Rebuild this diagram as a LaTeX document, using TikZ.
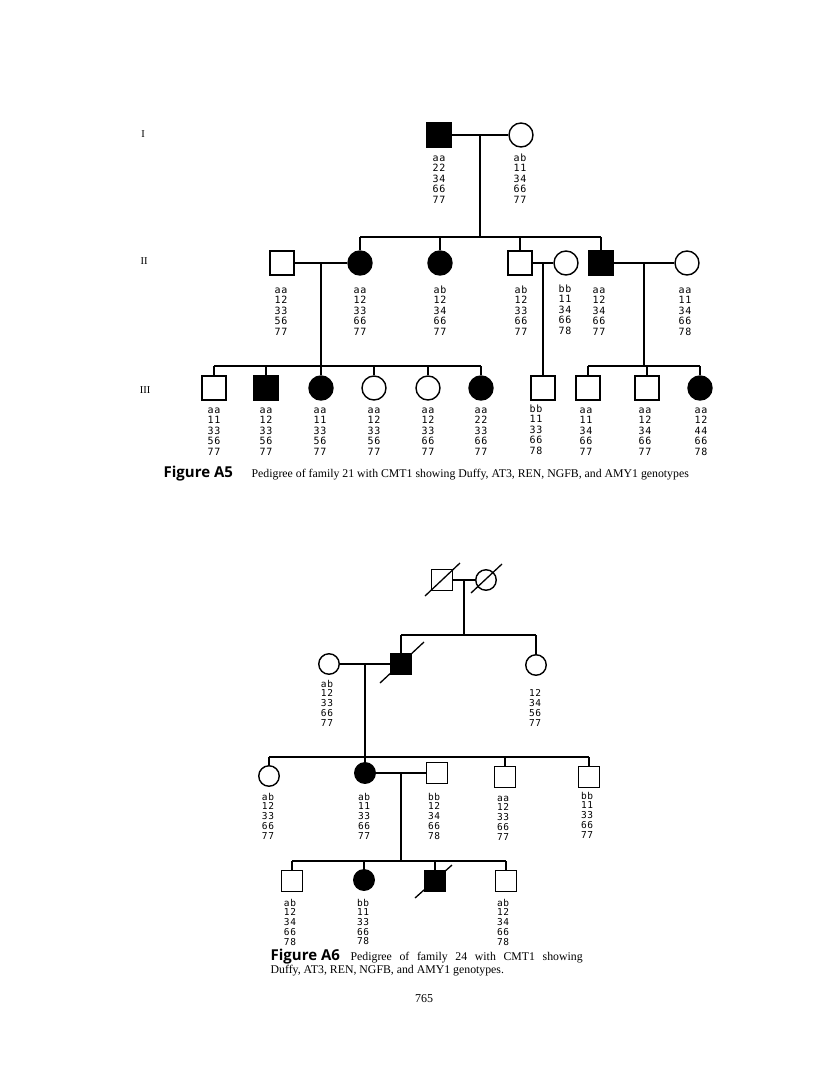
\documentclass[tikz,border=0pt]{standalone}
\usepackage{fontspec}
\setmainfont{Liberation Serif}
\newfontfamily\gfont[LetterSpace=6]{DejaVu Sans Mono}
\newfontfamily\figfont{Open Sans}
\usetikzlibrary{calc}
% genotype column
\newcommand{\gtp}[1]{\begin{tabular}[t]{@{}c@{}}#1\end{tabular}}

\begin{document}
\begin{tikzpicture}[x=1pt,y=-1pt,line width=1.3pt,
  male/.style={draw,rectangle,minimum size=24pt,inner sep=0pt,line width=1.4pt},
  female/.style={draw,circle,minimum size=24pt,inner sep=0pt,line width=1.4pt},
  aff/.style={fill=black},
  sm/.style={minimum size=20.5pt},
  geno/.style={font=\gfont\fontsize{10}{10.5}\selectfont,inner sep=0pt,anchor=base},
  genob/.style={geno,font=\gfont\fontsize{9.5}{9.5}\selectfont},
  genoc/.style={geno,font=\gfont\fontsize{9.5}{9}\selectfont},
  gen/.style={font=\fontsize{10.5}{12}\selectfont},
  figcap/.style={font=\figfont\bfseries\fontsize{15}{17}\selectfont,anchor=base west,inner sep=0pt},
  captxt/.style={font=\fontsize{11.8}{13}\selectfont,anchor=base west,inner sep=0pt}]
  \useasboundingbox (0,0) rectangle (816,1081);

  % Figure A5 -- generations
  \node[gen] (gI) at (143,134) {I};
  \node[gen] (gII) at (144,261) {II};
  \node[gen] (gIII) at (145,390) {III};

  % generation I
  \node[male,aff] (a1) at (439,135) {};
  \node[female] (a2) at (521,135) {};
  \draw (a1) -- (a2);
  \coordinate (ma) at ($(a1)!0.5!(a2)$);
  \coordinate (sa) at (ma |- 0,237);
  \node[geno] (ta1) at (439,161) {\gtp{aa\\22\\34\\66\\77}};
  \node[geno] (ta2) at (520,161) {\gtp{ab\\11\\34\\66\\77}};

  % generation II
  \node[male] (b1) at (282,263) {};
  \node[female,aff] (b2) at (360,263) {};
  \node[female,aff] (b3) at (440,263) {};
  \node[male] (b4) at (520,263) {};
  \node[female] (b5) at (566,263) {};
  \node[male,aff] (b6) at (601,263) {};
  \node[female] (b7) at (687,263) {};
  \draw (ma) -- (sa);
  \draw (b2.north |- sa) -- (b6.north |- sa);
  \foreach \c in {b2,b3,b4,b6}
    \draw (\c.north |- sa) -- (\c.north);
  \draw (b1) -- (b2);
  \draw (b4) -- (b5);
  \draw (b6) -- (b7);
  \coordinate (mb1) at ($(b1)!0.5!(b2)$);
  \coordinate (mb2) at ($(b4)!0.5!(b5)$);
  \coordinate (mb3) at ($(b6)!0.5!(b7)$);
  \node[geno] (tb1) at (281,293) {\gtp{aa\\12\\33\\56\\77}};
  \node[geno] (tb2) at (360,293) {\gtp{aa\\12\\33\\66\\77}};
  \node[geno] (tb3) at (440,293) {\gtp{ab\\12\\34\\66\\77}};
  \node[geno] (tb4) at (521,293) {\gtp{ab\\12\\33\\66\\77}};
  \node[geno] (tb5) at (565,292) {\gtp{bb\\11\\34\\66\\78}};
  \node[geno] (tb6) at (599,293) {\gtp{aa\\12\\34\\66\\77}};
  \node[geno] (tb7) at (685,293) {\gtp{aa\\11\\34\\66\\78}};

  % generation III
  \node[male] (c1) at (214,388) {};
  \node[male,aff] (c2) at (266,388) {};
  \node[female,aff] (c3) at (mb1 |- 0,388) {};
  \node[female] (c4) at (374,388) {};
  \node[female] (c5) at (428,388) {};
  \node[female,aff] (c6) at (481,388) {};
  \node[male] (c7) at (mb2 |- 0,388) {};
  \node[male] (c8) at (588,388) {};
  \node[male] (c9) at (647,388) {};
  \node[female,aff] (c10) at (700,388) {};
  \coordinate (sb) at (mb1 |- 0,366);
  \coordinate (sc) at (mb3 |- 0,366);
  \draw (mb1) -- (sb);
  \draw (c1.north |- sb) -- (c6.north |- sb);
  \foreach \c in {c1,c2,c3,c4,c5,c6}
    \draw (\c.north |- sb) -- (\c.north);
  \draw (mb2) -- (c7);
  \draw (mb3) -- (sc);
  \draw (c8.north |- sc) -- (c10.north |- sc);
  \foreach \c in {c8,c9,c10}
    \draw (\c.north |- sc) -- (\c.north);
  \node[geno] (tc1) at (214,413) {\gtp{aa\\11\\33\\56\\77}};
  \node[geno] (tc2) at (266,413) {\gtp{aa\\12\\33\\56\\77}};
  \node[geno] (tc3) at (320,413) {\gtp{aa\\11\\33\\56\\77}};
  \node[geno] (tc4) at (374,413) {\gtp{aa\\12\\33\\56\\77}};
  \node[geno] (tc5) at (428,413) {\gtp{aa\\12\\33\\66\\77}};
  \node[geno] (tc6) at (481,413) {\gtp{aa\\22\\33\\66\\77}};
  \node[geno] (tc7) at (536,412) {\gtp{bb\\11\\33\\66\\78}};
  \node[geno] (tc8) at (586,413) {\gtp{aa\\11\\34\\66\\77}};
  \node[geno] (tc9) at (645,413) {\gtp{aa\\12\\34\\66\\77}};
  \node[geno] (tc10) at (701,413) {\gtp{aa\\12\\44\\66\\78}};

  \node[figcap] (capa) at (163,477) {Figure A5};
  \node[captxt] (capta) at (251,477) {Pedigree of family 21 with CMT1 showing Duffy, AT3, REN, NGFB, and AMY1 genotypes};

  % Figure A6 -- generation I
  \node[male,sm] (d1) at (442,580) {};
  \node[female,sm] (d2) at (486,580) {};
  \draw (d1) -- (d2);
  \draw ([shift={(-17,16)}]d1.center) -- ([shift={(18,-17)}]d1.center);
  \draw ([shift={(-15,13)}]d2.center) -- ([shift={(16,-16)}]d2.center);
  \coordinate (md) at ($(d1)!0.5!(d2)$);
  \coordinate (sd) at (md |- 0,635);

  % generation II
  \node[female,sm] (e1) at (329,664) {};
  \node[male,sm,aff] (e2) at (401,664) {};
  \node[female,sm] (e3) at (536,665) {};
  \draw ([shift={(-21,19)}]e2.center) -- ([shift={(23,-22)}]e2.center);
  \draw (md) -- (sd);
  \draw (e2.north |- sd) -- (e3.north |- sd);
  \foreach \c in {e2,e3}
    \draw (\c.north |- sd) -- (\c.north);
  \draw (e1) -- (e2);
  \coordinate (me) at ($(e1)!0.5!(e2)$);
  \node[genob] (te1) at (327,687) {\gtp{ab\\12\\33\\66\\77}};
  \node[genob] (te3) at (535,687) {\gtp{\\12\\34\\56\\77}};

  % generation III
  \node[female,sm] (f1) at (269,776) {};
  \node[female,sm,aff] (f2) at (me |- 0,773) {};
  \node[male,sm] (f3) at (437,773) {};
  \node[male,sm] (f4) at (505,777) {};
  \node[male,sm] (f5) at (589,777) {};
  \coordinate (se) at (me |- 0,757);
  \draw (me) -- (f2);
  \draw (f1.north |- se) -- (f5.north |- se);
  \foreach \c in {f1,f4,f5}
    \draw (\c.north |- se) -- (\c.north);
  \draw (f2) -- (f3);
  \coordinate (mf) at ($(f2)!0.5!(f3)$);
  \coordinate (sf) at (mf |- 0,861);
  \node[genob] (tf1) at (268,800) {\gtp{ab\\12\\33\\66\\77}};
  \node[genob] (tf2) at (364,800) {\gtp{ab\\11\\33\\66\\77}};
  \node[genob] (tf3) at (434,800) {\gtp{bb\\12\\34\\66\\78}};
  \node[genob] (tf4) at (503,801) {\gtp{aa\\12\\33\\66\\77}};
  \node[genob] (tf5) at (587,799) {\gtp{bb\\11\\33\\66\\77}};

  % generation IV
  \node[male,sm] (g1) at (292,881) {};
  \node[female,sm,aff] (g2) at (364,880) {};
  \node[male,sm,aff] (g3) at (435,881) {};
  \node[male,sm] (g4) at (506,881) {};
  \draw ([shift={(-20,17)}]g3.center) -- ([shift={(17,-16)}]g3.center);
  \draw (mf) -- (sf);
  \draw (g1.north |- sf) -- (g4.north |- sf);
  \foreach \c in {g1,g2,g3,g4}
    \draw (\c.north |- sf) -- (\c.north);
  \node[genoc] (tg1) at (290,906) {\gtp{ab\\12\\34\\66\\78}};
  \node[genoc] (tg2) at (363,906) {\gtp{bb\\11\\33\\66\\78}};
  \node[genoc] (tg4) at (503,906) {\gtp{ab\\12\\34\\66\\78}};

  \node[figcap] (capb) at (270,960) {Figure A6};
  \node[captxt] (captb) at (350,960) {\makebox[232pt][s]{Pedigree of family 24 with CMT1 showing}};
  \node[captxt] (captc) at (270,973) {Duffy, AT3, REN, NGFB, and AMY1 genotypes.};
  \node[font=\fontsize{12}{14}\selectfont,anchor=base,inner sep=0pt] (pg) at (424,1002) {765};
\end{tikzpicture}
\end{document}
